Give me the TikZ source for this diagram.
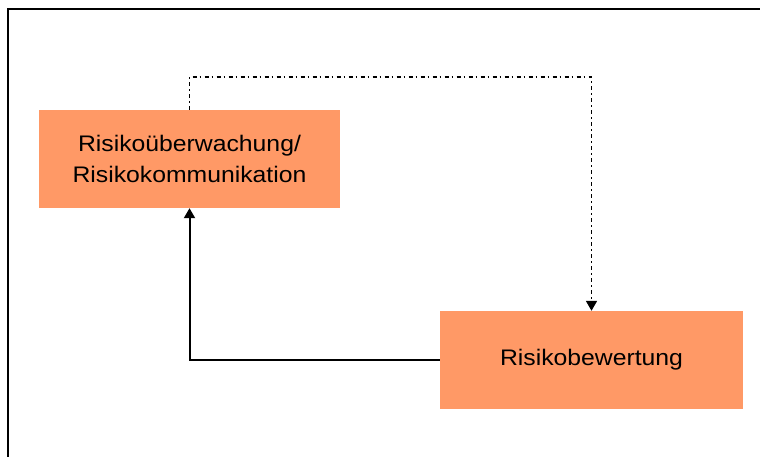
\documentclass[tikz,border=0pt]{standalone}
\usepackage{fontspec}
\setmainfont{Liberation Sans}[FakeStretch=1.1]
\usetikzlibrary{arrows.meta}
\definecolor{boxorange}{RGB}{255,153,102}
\tikzset{
  riskbox/.style={fill=boxorange, draw=none, inner sep=0pt, align=center,
    font=\fontsize{22.5}{31.5}\selectfont},
  flow/.style={line width=2pt, -{Triangle[length=10pt,width=11pt]}},
  feedback/.style={line width=1.7pt, dash pattern=on 4pt off 3pt on 1.5pt off 3.5pt,
    -{Triangle[length=10pt,width=11pt]}},
  frameline/.style={line width=2pt}
}
\begin{document}
\begin{tikzpicture}[x=1pt,y=-1pt]
\useasboundingbox (0,0) rectangle (760,457);
\coordinate (fbl) at (8,470);
\coordinate (ftl) at (8,9.3);
\coordinate (ftr) at (770,9.3);
\draw[frameline] (fbl) -- (ftl) -- (ftr);
\node[riskbox, minimum width=301pt, minimum height=98pt] (mon) at (189.5,159)
  {Risikoüberwachung/\\Risikokommunikation};
\node[riskbox, minimum width=303pt, minimum height=98pt] (eval) at (591.5,360)
  {Risikobewertung};
\coordinate (tl) at (189.5,77);
\coordinate (tr) at (591.5,77);
\coordinate (bl) at (189.5,360);
\draw[feedback] (mon.north) -- (tl) -- (tr) -- (eval.north);
\draw[flow] (eval.west) -- (bl) -- (mon.south);
\end{tikzpicture}
\end{document}
